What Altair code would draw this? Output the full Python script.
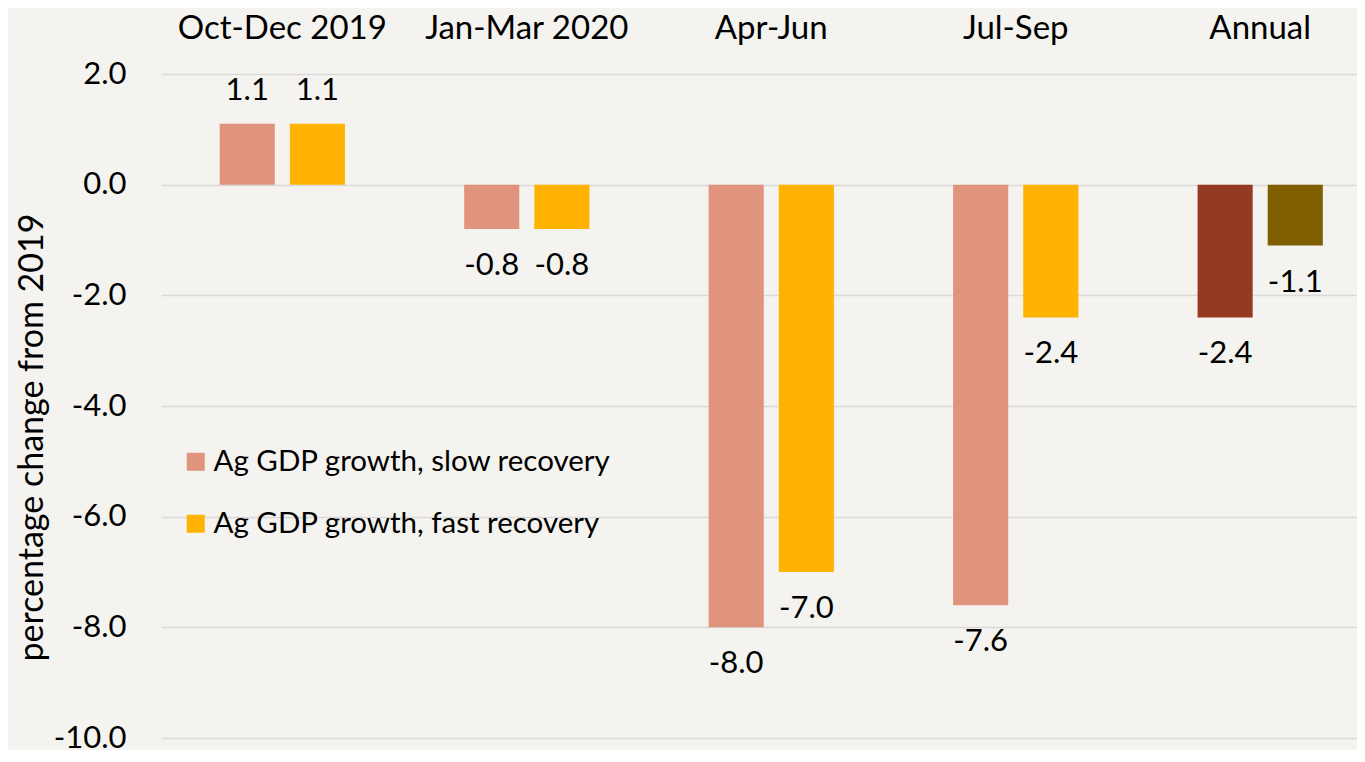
import altair as alt
import pandas as pd

periods = ["Oct-Dec 2019", "Jan-Mar 2020", "Apr-Jun", "Jul-Sep", "Annual"]
series = ["Ag GDP growth, slow recovery", "Ag GDP growth, fast recovery"]
slow_values = [1.1, -0.8, -8.0, -7.6, -2.4]
fast_values = [1.1, -0.8, -7.0, -2.4, -1.1]
y_ticks = [2, 0, -2, -4, -6, -8, -10]

color_keys = series + ["Annual, slow", "Annual, fast"]
color_range = ["#E0937D", "#FFB300", "#943922", "#7F5F00"]

rows = []
for i, p in enumerate(periods):
    for s, vals in zip(series, [slow_values, fast_values]):
        key = s
        if p == "Annual":
            key = "Annual, slow" if s == series[0] else "Annual, fast"
        rows.append({"period": p, "series": s, "value": vals[i], "key": key,
                     "label": f"{vals[i]:.1f}"})
df = pd.DataFrame(rows)

FONT = "Lato"

x_enc = alt.X(
    "period:N", sort=periods,
    scale=alt.Scale(paddingInner=0.4877, paddingOuter=0.19, align=0.632),
    axis=alt.Axis(orient="top", title=None, domain=False, ticks=False,
                  labelFontSize=33, labelPadding=29, labelColor="#000000",
                  labelFont=FONT, labelAngle=0, labelLimit=500),
)
xoff_enc = alt.XOffset("series:N", sort=series,
                       scale=alt.Scale(paddingInner=0.2143, paddingOuter=0))
y_scale = alt.Scale(domain=[-10, 2], nice=False, zero=False)

base = alt.Chart(df).encode(x=x_enc, xOffset=xoff_enc)

bars = base.mark_bar().encode(
    y=alt.Y("value:Q", scale=y_scale,
            axis=alt.Axis(values=y_ticks, format=".1f",
                          labelExpr="replace(datum.label, '\u2212', '-')",
                          title="percentage change from 2019",
                          domain=False, ticks=False, labelPadding=35,
                          labelFontSize=31, labelColor="#000000", labelFont=FONT,
                          titleFontSize=34, titleFont=FONT, titleFontWeight="normal",
                          titleColor="#000000", titleX=-129, titleY=363,
                          titleAngle=-90, titleAlign="center", titleBaseline="middle",
                          grid=True, gridColor="#D9D9D9", gridWidth=1.5)),
    y2=alt.datum(0),
    color=alt.Color("key:N", scale=alt.Scale(domain=color_keys, range=color_range),
                    legend=alt.Legend(values=series, title=None, orient="none",
                                      legendX=20, legendY=373, symbolType="square",
                                      symbolSize=324, symbolStrokeWidth=0,
                                      labelFontSize=29.5, labelFont=FONT,
                                      labelColor="#000000", rowPadding=31,
                                      labelOffset=3, labelLimit=600)),
)

pos_text = base.transform_filter("datum.value >= 0").mark_text(
    baseline="alphabetic", dy=-24, fontSize=31, font=FONT, color="#000000"
).encode(y=alt.Y("value:Q", scale=y_scale), text="label:N")

neg_text = base.transform_filter("datum.value < 0").mark_text(
    baseline="alphabetic", dy=46, fontSize=31, font=FONT, color="#000000"
).encode(y=alt.Y("value:Q", scale=y_scale), text="label:N")

chart = alt.layer(bars, pos_text, neg_text).properties(
    width=1196, height=664,
    background="#F4F3EF",
    autosize=alt.AutoSizeParams(type="none"),
    padding={"left": 153, "top": 66, "right": 0, "bottom": 12},
).configure_view(stroke=None)

chart.save("out.html", embed_options={"renderer": "svg", "actions": False})
